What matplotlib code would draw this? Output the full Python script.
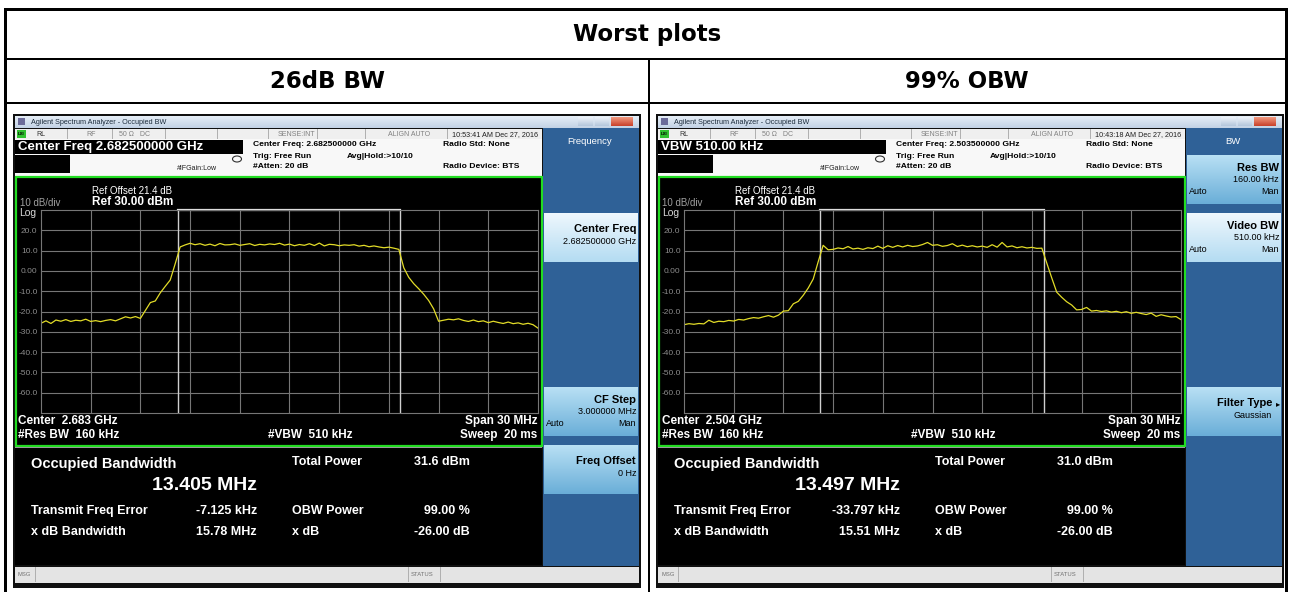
import numpy as np
import matplotlib.pyplot as plt
from matplotlib.patches import Rectangle, Ellipse
from matplotlib.colors import to_rgb

plt.rcParams['font.family'] = ['Liberation Sans', 'DejaVu Sans']

W, H = 1290, 592

table_title = 'Worst plots'
col_titles = ['26dB BW', '99% OBW']
active_fn = ['Center Freq 2.682500000 GHz', 'VBW 510.00 kHz']
center_freq = ['2.682500000 GHz', '2.503500000 GHz']
center_short = ['2.683 GHz', '2.504 GHz']
timestamps = ['10:53:41 AM Dec 27, 2016', '10:43:18 AM Dec 27, 2016']
obw_mhz = [13.405, 13.497]
total_power_dbm = [31.6, 31.0]
freq_err_khz = [-7.125, -33.797]
xdb_bw_mhz = [15.78, 15.51]
obw_power_pct = [99.00, 99.00]
xdb_db = [-26.00, -26.00]
menu_titles = ['Frequency', 'BW']
# softkey slot, name, value, auto/man underline, selected
softkeys = [
    [(2, 'Center Freq', '2.682500000 GHz', None, True),
     (5, 'CF Step', '3.000000 MHz', 'Auto', False),
     (6, 'Freq Offset', '0 Hz', None, False)],
    [(1, 'Res BW', '160.00 kHz', 'Man', False),
     (2, 'Video BW', '510.00 kHz', 'Man', True),
     (5, 'Filter Type', 'Gaussian', None, False)],
]
span_mhz = 30
ref_dbm = 30
y_ticks = [20, 10, 0, -10, -20, -30, -40, -50, -60]
y_tick_labels = ['20.0', '10.0', '0.00', '-10.0', '-20.0', '-30.0', '-40.0', '-50.0', '-60.0']

# sweep levels (dBm), 101 points across the 30 MHz span
trace_26db = [
    -25.8, -24.6, -25.9, -24.2, -24.8, -24.0, -24.9, -24.3, -24.6, -23.8,
    -24.9, -24.5, -25.0, -24.4, -24.0, -24.6, -23.6, -22.6, -23.2, -22.5,
    -23.4, -19.5, -15.6, -14.8, -10.8, -7.6, -4.5, 3.5, 11.8, 12.8,
    13.6, 12.9, 13.4, 12.6, 13.2, 12.4, 13.5, 12.8, 12.9, 13.3,
    12.6, 13.0, 13.4, 12.5, 13.1, 12.8, 13.3, 13.0, 13.6, 12.7,
    13.2, 12.4, 13.0, 12.6, 13.4, 12.5, 13.7, 12.3, 13.1, 12.9,
    12.4, 12.8, 12.6, 12.9, 12.2, 12.6, 11.9, 12.3, 11.8, 11.4,
    11.7, 11.2, 10.6, 1.5, -3.2, -6.3, -8.8, -11.5, -14.6, -18.7,
    -24.8, -24.3, -23.8, -24.1, -23.6, -24.4, -24.9, -24.2, -25.0, -24.6,
    -25.5, -24.8, -25.4, -25.9, -25.2, -26.0, -25.6, -26.3, -25.8, -26.5,
    -28.2]
trace_99obw = [
    -26.5, -26.0, -26.3, -25.9, -26.1, -24.3, -25.4, -24.8, -25.0, -24.4,
    -24.7, -23.9, -24.2, -23.5, -23.0, -23.3, -22.6, -22.0, -22.8, -21.8,
    -19.8, -19.6, -16.2, -15.0, -12.0, -8.4, -4.0, 4.5, 12.6, 10.4,
    10.6, 11.3, 10.9, 12.0, 10.8, 11.2, 10.6, 11.4, 11.0, 12.2,
    11.1, 12.4, 11.6, 12.5, 11.8, 12.6, 12.0, 12.3, 13.0, 14.0,
    12.6, 12.9, 12.1, 12.5, 13.4, 12.0, 12.7, 11.9, 12.4, 11.8,
    12.2, 11.6, 12.9, 11.7, 14.0, 11.8, 12.3, 11.4, 11.9, 11.3,
    11.6, 11.1, 11.2, 3.8, -3.5, -10.5, -13.0, -15.2, -16.8, -19.2,
    -19.0, -18.0, -19.8, -19.5, -20.0, -19.7, -20.3, -19.9, -20.6, -20.1,
    -20.9, -20.4, -21.0, -21.5, -20.8, -22.4, -21.6, -22.2, -22.7, -22.5,
    -24.0]
traces = [trace_26db, trace_99obw]

fig = plt.figure(figsize=(12.9, 5.92), dpi=100)
ov = fig.add_axes([0, 0, 1, 1])
ov.axis('off')


def box(x, y, w, h, fc, ec='none', lw=0, z=1):
    ov.add_patch(Rectangle((x, y), w, h, facecolor=fc, edgecolor=ec, linewidth=lw, zorder=z))


def grad(x, y, w, h, c_top, c_bot, z=2):
    t = np.linspace(0, 1, 40)[:, None, None]
    img = np.array(to_rgb(c_top)) * (1 - t) + np.array(to_rgb(c_bot)) * t
    ov.imshow(img, extent=(x, x + w, y + h, y), origin='upper', aspect='auto',
              interpolation='bilinear', zorder=z)


def txt(x, y, s, size, color='black', weight='normal', ha='left', va='center', family=None):
    ov.text(x, y, s, fontsize=size, color=color, fontweight=weight, ha=ha, va=va,
            zorder=6, family=family)


# table
box(4, 8, 1284, 3, 'black')
box(4, 8, 3, 590, 'black')
box(1285, 8, 3, 590, 'black')
box(4, 57.5, 1284, 2.2, 'black')
box(4, 102, 1284, 2.2, 'black')
box(647.5, 58, 2, 540, 'black')
hdr_font = ['DejaVu Sans']
txt(647, 34.5, table_title, 16.5, weight='bold', ha='center', family=hdr_font)
txt(327, 81.5, col_titles[0], 16.5, weight='bold', ha='center', family=hdr_font)
txt(967, 81.5, col_titles[1], 16.5, weight='bold', ha='center', family=hdr_font)

for k, dx in enumerate([0, 643]):
    X = lambda x: x + dx
    box(X(13), 114, 628, 474, '#101010')
    grad(X(15), 116, 624, 12, '#e6eef7', '#c2d2e5')
    box(X(18), 118, 7, 7, '#6b6b99', z=3)
    txt(X(31), 122, 'Agilent Spectrum Analyzer - Occupied BW', 5.2, '#1c2c3c')
    grad(X(578), 117, 15, 9, '#eef3f9', '#b4c6dc', z=3)
    grad(X(595), 117, 14, 9, '#eef3f9', '#b4c6dc', z=3)
    grad(X(611), 117, 22, 9, '#f29a80', '#c8402a', z=3)

    # status row and info area
    box(X(15), 129, 527, 10, '#efefef')
    box(X(15), 139, 527, 37, '#f8f8f8')
    for sx in [67, 112, 165, 217, 268, 317, 365, 447]:
        box(X(sx), 129, 0.8, 10, '#b0b0b0', z=2)
    box(X(15), 138.6, 527, 0.6, '#b8b8b8', z=2)
    box(X(17), 130, 9, 8, '#2fc02f', z=3)
    txt(X(21.5), 134.2, 'LXI', 3.2, 'black', 'bold', ha='center')
    txt(X(36), 134.3, 'RL', 5, '#303030')
    txt(X(86), 134.3, 'RF', 5, '#808080')
    txt(X(119), 134.3, '50 Ω   DC', 5, '#808080')
    txt(X(315), 134.3, 'SENSE:INT', 5, '#808080', ha='right')
    txt(X(430), 134.3, 'ALIGN AUTO', 5, '#808080', ha='right')
    txt(X(538), 134.3, timestamps[k], 5.2, '#202020', ha='right')

    box(X(15), 140, 228, 14, 'black', z=2)
    box(X(15), 155, 55, 18, 'black', z=2)
    txt(X(18), 147.3, active_fn[k], 9.5, 'white', 'bold')
    txt(X(177), 168.5, '#IFGain:Low', 5, '#202020')
    ov.add_patch(Ellipse((X(237), 159), 9, 6, facecolor='none', edgecolor='#303030', lw=0.8, zorder=3))
    txt(X(253), 145, 'Center Freq: ' + center_freq[k], 6.1, 'black', 'bold')
    txt(X(253), 156, 'Trig: Free Run', 6.1, 'black', 'bold')
    txt(X(347), 156, 'Avg|Hold:>10/10', 6.1, 'black', 'bold')
    txt(X(253), 167, '#Atten: 20 dB', 6.1, 'black', 'bold')
    txt(X(443), 145, 'Radio Std: None', 6.1, 'black', 'bold')
    txt(X(443), 167, 'Radio Device: BTS', 6.1, 'black', 'bold')

    # graticule frame and annotations
    box(X(15.5), 176.5, 526, 269, 'black', ec='#22dd22', lw=1.6, z=2)
    txt(X(92), 191.5, 'Ref Offset 21.4 dB', 7, 'white')
    txt(X(92), 202.3, 'Ref %.2f dBm' % ref_dbm, 8.5, 'white', 'bold')
    txt(X(19.5), 203.3, '10 dB/div', 7, '#a0a0a0')
    txt(X(19.5), 213, 'Log', 7.5, '#d8d8d8')
    txt(X(18.5), 421, 'Center  ' + center_short[k], 8.5, 'white', 'bold')
    txt(X(18.5), 435, '#Res BW  160 kHz', 8.5, 'white', 'bold')
    txt(X(268), 435, '#VBW  510 kHz', 8.5, 'white', 'bold')
    txt(X(537.5), 421, 'Span %d MHz' % span_mhz, 8.5, 'white', 'bold', ha='right')
    txt(X(537.5), 435, 'Sweep  20 ms', 8.5, 'white', 'bold', ha='right')

    # measurement results
    box(X(15), 446.5, 527, 1.2, '#9a9a9a', z=2)
    box(X(15), 448, 527, 117, 'black', z=2)
    txt(X(31), 464, 'Occupied Bandwidth', 10.5, 'white', 'bold')
    txt(X(257), 486, '%.3f MHz' % obw_mhz[k], 14, 'white', 'bold', ha='right')
    txt(X(292), 462, 'Total Power', 9, 'white', 'bold')
    txt(X(470), 462, '%.1f dBm' % total_power_dbm[k], 9, 'white', 'bold', ha='right')
    txt(X(31), 511, 'Transmit Freq Error', 9, 'white', 'bold')
    txt(X(257), 511, '%.3f kHz' % freq_err_khz[k], 9, 'white', 'bold', ha='right')
    txt(X(292), 511, 'OBW Power', 9, 'white', 'bold')
    txt(X(470), 511, '%.2f %%' % obw_power_pct[k], 9, 'white', 'bold', ha='right')
    txt(X(31), 532, 'x dB Bandwidth', 9, 'white', 'bold')
    txt(X(257), 532, '%.2f MHz' % xdb_bw_mhz[k], 9, 'white', 'bold', ha='right')
    txt(X(292), 532, 'x dB', 9, 'white', 'bold')
    txt(X(470), 532, '%.2f dB' % xdb_db[k], 9, 'white', 'bold', ha='right')

    # status bar
    box(X(15), 566.5, 624, 16, '#e4e4e4', z=2)
    box(X(35), 567, 0.8, 15, '#b0b0b0', z=3)
    box(X(408), 567, 0.8, 15, '#b0b0b0', z=3)
    box(X(440), 567, 0.8, 15, '#b0b0b0', z=3)
    txt(X(18), 574.5, 'MSG', 4.2, '#707070')
    txt(X(411), 574.5, 'STATUS', 4.2, '#707070')

    # softkey menu
    box(X(543), 128, 96, 438, '#2f6197', z=2)
    txt(X(590), 141.5, menu_titles[k], 6.8, 'white', ha='center')
    for slot, name, val, am, sel in softkeys[k]:
        top = 155 + (slot - 1) * 58
        if sel:
            grad(X(544), top, 94, 49, '#eef7fd', '#b4dcf2', z=3)
        else:
            grad(X(544), top, 94, 49, '#b8e0f4', '#6aaed8', z=3)
        rx = 636
        if name == 'Filter Type':
            rx = 629
            txt(X(635), top + 18, '▸', 6, 'black', ha='center')
        if am:
            txt(X(rx), top + 13, name, 8, 'black', 'bold', ha='right')
            txt(X(rx), top + 25, val, 6.5, 'black', ha='right')
            txt(X(546), top + 37, 'Auto', 6.5, 'black')
            txt(X(636), top + 37, 'Man', 6.5, 'black', ha='right')
            if am == 'Auto':
                box(X(546), top + 41.5, 18, 0.8, 'black', z=6)
            else:
                box(X(618.5), top + 41.5, 17.5, 0.8, 'black', z=6)
        else:
            txt(X(rx), top + 16, name, 8, 'black', 'bold', ha='right')
            txt(X(rx), top + 29, val, 6.5, 'black', ha='right')

ov.set_xlim(0, W)
ov.set_ylim(H, 0)

# spectrum traces drawn in their own axes on the graticule
for k, dx in enumerate([0, 643]):
    ax = fig.add_axes([(41 + dx) / W, (H - 413) / H, 497 / W, 203 / H])
    ax.set_facecolor('black')
    half = span_mhz / 2
    freq = np.linspace(-half, half, len(traces[k]))
    ax.set_xlim(-half, half)
    ax.set_ylim(ref_dbm - 100, ref_dbm)
    ax.set_xticks(np.linspace(-half, half, 11)[1:-1])
    ax.set_yticks(y_ticks)
    ax.set_yticklabels(y_tick_labels)
    ax.grid(True, color='#767676', lw=0.8)
    ax.tick_params(length=0, labelbottom=False, labelsize=6, labelcolor='#8c8c8c', pad=2.5)
    for sp in ax.spines.values():
        sp.set_color('#767676')
        sp.set_linewidth(0.8)
    m1 = freq_err_khz[k] / 1000 - obw_mhz[k] / 2
    m2 = freq_err_khz[k] / 1000 + obw_mhz[k] / 2
    ax.axvline(m1, color='#cfcfcf', lw=1.0)
    ax.axvline(m2, color='#cfcfcf', lw=1.0)
    ax.plot([m1, m2], [ref_dbm, ref_dbm], color='#e4e4e4', lw=1.6, clip_on=False)
    ax.plot(freq, traces[k], color='#e2dc28', lw=0.9)

fig.savefig('out.png', dpi=100)
